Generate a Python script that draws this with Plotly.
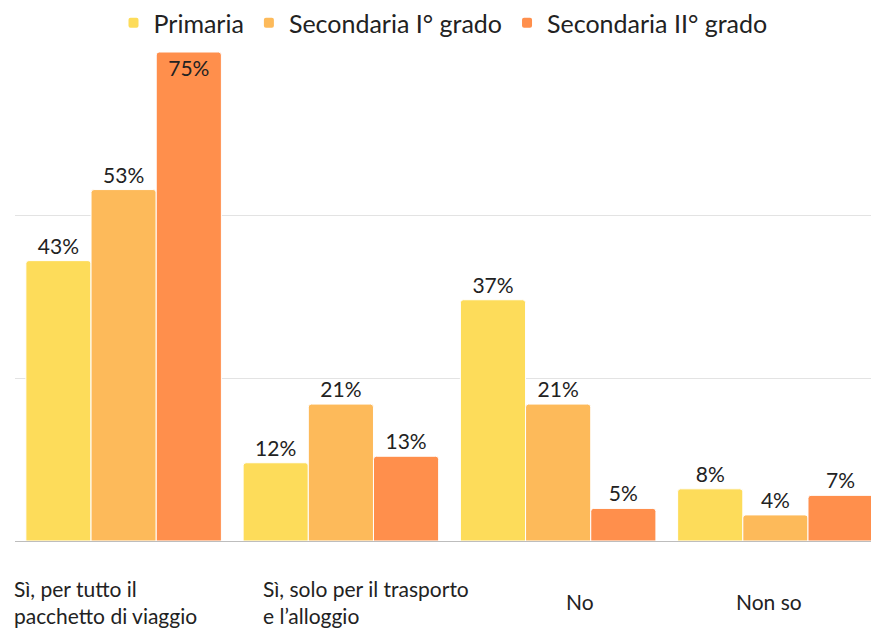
import plotly.graph_objects as go

categories = ["Sì, per tutto il<br>pacchetto di viaggio",
              "Sì, solo per il trasporto<br>e l’alloggio",
              "No",
              "Non so"]
series_names = ["Primaria", "Secondaria I° grado", "Secondaria II° grado"]
primaria = [43, 12, 37, 8]
secondaria_1 = [53.9, 21, 21, 4]
secondaria_2 = [75, 13, 5, 7]
labels_primaria = ["43%", "12%", "37%", "8%"]
labels_secondaria_1 = ["53%", "21%", "21%", "4%"]
labels_secondaria_2 = ["75%", "13%", "5%", "7%"]

colors = ["#FDDC5A", "#FDBA5A", "#FF8F4C"]
FONT = "Lato, 'Open Sans', sans-serif"
xs = [0, 1, 2, 3]

fig = go.Figure()
for name, vals, labs, col in [
    (series_names[0], primaria, labels_primaria, colors[0]),
    (series_names[1], secondaria_1, labels_secondaria_1, colors[1]),
    (series_names[2], secondaria_2, labels_secondaria_2, colors[2]),
]:
    pos = ["inside" if v >= 70 else "outside" for v in vals]
    fig.add_trace(go.Bar(
        x=xs, y=vals, name=name, text=labs, textposition=pos,
        insidetextanchor="end",
        marker=dict(color=col, line=dict(color="white", width=1)),
        textfont=dict(family=FONT, size=21, color="#222222"),
        cliponaxis=False,
    ))

label_shift = [-112, -80, 6, -41]
label_yshift = [-33, -33, -46, -46]
for i, c in enumerate(categories):
    fig.add_annotation(x=xs[i], y=0, xref="x", yref="y", yanchor="top",
                       xanchor="left", xshift=label_shift[i],
                       yshift=label_yshift[i], text=c,
                       align="left", showarrow=False,
                       font=dict(family=FONT, size=21, color="#222222"))

fig.update_layout(
    width=871, height=629,
    margin=dict(l=15, r=0, t=52, b=88),
    barmode="group", bargap=0.10, bargroupgap=0.0,
    barcornerradius=3,
    plot_bgcolor="white", paper_bgcolor="white",
    font=dict(family=FONT, size=20, color="#222222"),
    legend=dict(orientation="h", x=0.5, xanchor="center", y=1.0,
                yanchor="top", yref="container",
                font=dict(family=FONT, size=25, color="#222222"),
                itemwidth=30, itemsizing="constant"),
    showlegend=True,
)
fig.update_xaxes(range=[-0.5, 3.44], showticklabels=False, showgrid=False,
                 zeroline=False, showline=False, ticks="")
fig.update_yaxes(range=[0, 75], dtick=25, showticklabels=False,
                 gridcolor="#E3E3E3", gridwidth=1, zeroline=True,
                 zerolinecolor="#BDBDBD", zerolinewidth=1, ticks="")

fig.write_html("out.html", config={"displayModeBar": False},
               post_script="document.body.style.margin='0';document.body.style.padding='0';")
